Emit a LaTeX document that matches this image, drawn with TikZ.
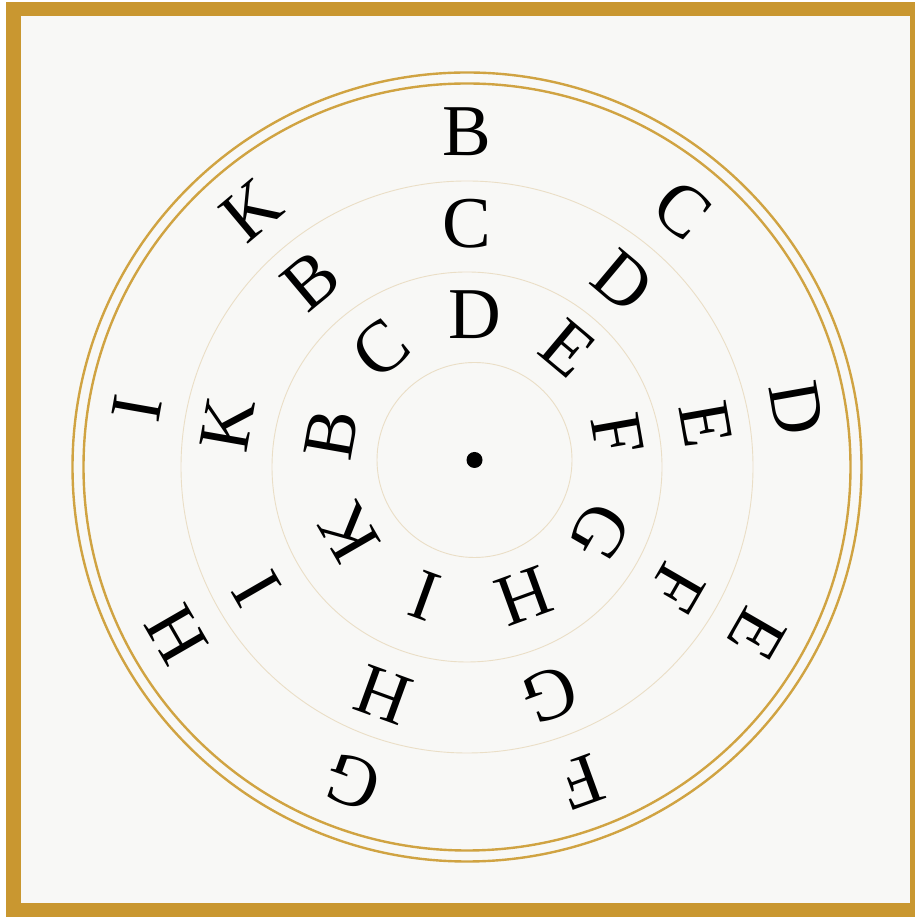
\documentclass[tikz,border=0pt]{standalone}
\usepackage{fontspec}
\setmainfont{Liberation Serif}
\definecolor{framegold}{RGB}{201,151,48}
\definecolor{ringgold}{RGB}{208,163,66}
\definecolor{thinring}{RGB}{234,222,198}
\definecolor{paper}{RGB}{248,248,246}
\begin{document}
\begin{tikzpicture}[x=1pt,y=1pt,
  letter/.style={font=\fontsize{73}{80}\selectfont, inner sep=0pt, anchor=center, text=black},
  goldring/.style={draw=ringgold, line width=2.4pt},
  faintring/.style={draw=thinring, line width=0.9pt}]
\useasboundingbox (0,0) rectangle (915,917);
\fill[white] (0,0) rectangle (915,917);
\fill[framegold] (6,0) rectangle (915,915);
\fill[paper] (21,14) rectangle (910,901);
\coordinate (O) at (467,450);
\coordinate (Oi) at (474.5,457);
\draw[goldring] (O) circle (394.5pt);
\draw[goldring] (O) circle (383.5pt);
\draw[faintring] (O) circle (286pt);
\draw[faintring] (O) circle (195pt);
\draw[faintring] (Oi) circle (97.5pt);
\fill[black] (Oi) circle (8pt);
\begin{scope}[shift={(O)}]
  \foreach \L [count=\i from 0] in {B,C,D,E,F,G,H,I,K}
    \node[letter, rotate={-40*\i}] (o\i) at ({90-40*\i}:335) {\L};
  \foreach \L [count=\i from 0] in {C,D,E,F,G,H,I,K,B}
    \node[letter, rotate={-40*\i}] (m\i) at ({90-40*\i}:243) {\L};
\end{scope}
\begin{scope}[shift={(Oi)}]
  \foreach \L [count=\i from 0] in {D,E,F,G,H,I,K,B,C}
    \node[letter, rotate={-40*\i}] (n\i) at ({90-40*\i}:145) {\L};
\end{scope}
\end{tikzpicture}
\end{document}
